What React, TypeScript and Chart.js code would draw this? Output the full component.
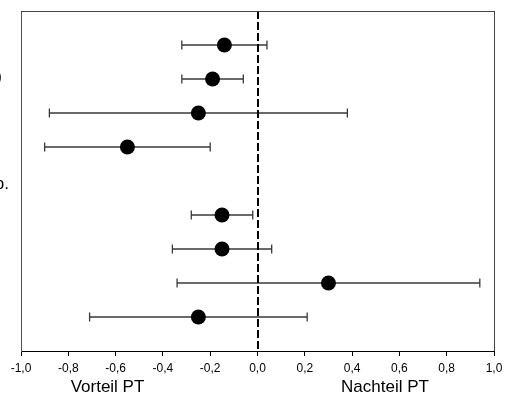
import { useEffect, useRef } from "react";
import { Chart, registerables } from "chart.js";

Chart.register(...registerables);

// Row slots on the vertical axis (slot 5 is left empty as a group gap)
const rowPositions = [1, 2, 3, 4, 6, 7, 8, 9];
// Point estimates and confidence limits for each row
const estimates = [-0.14, -0.19, -0.25, -0.55, -0.15, -0.15, 0.3, -0.25];
const lowerBounds = [-0.32, -0.32, -0.88, -0.9, -0.28, -0.36, -0.34, -0.71];
const upperBounds = [0.04, -0.06, 0.38, -0.2, -0.02, 0.06, 0.94, 0.21];
// Horizontal axis ticks
const xTickValues = [-1, -0.8, -0.6, -0.4, -0.2, 0, 0.2, 0.4, 0.6, 0.8, 1];
// Captions under the axis: favourable / unfavourable side
const axisCaptions = ["Vorteil PT", "Nachteil PT"];
// Row label endings at the far left edge
const sideLabels = [")", "p."];

const FONT = "'Liberation Sans', Arial, sans-serif";

const forestPlugin = {
  id: "forestExtras",
  beforeDatasetsDraw(chart: any) {
    const { ctx, chartArea, scales } = chart;
    const xs = scales.x;
    const ys = scales.y;
    ctx.save();
    // confidence intervals with end caps
    ctx.strokeStyle = "#3a3a3a";
    ctx.lineWidth = 1.3;
    for (let i = 0; i < rowPositions.length; i++) {
      const yp = ys.getPixelForValue(rowPositions[i]);
      const x1 = xs.getPixelForValue(lowerBounds[i]);
      const x2 = xs.getPixelForValue(upperBounds[i]);
      ctx.beginPath();
      ctx.moveTo(x1, yp);
      ctx.lineTo(x2, yp);
      ctx.moveTo(x1, yp - 4.5);
      ctx.lineTo(x1, yp + 4.5);
      ctx.moveTo(x2, yp - 4.5);
      ctx.lineTo(x2, yp + 4.5);
      ctx.stroke();
    }
    // dashed reference line at zero
    const x0 = Math.round(xs.getPixelForValue(0));
    ctx.strokeStyle = "#000";
    ctx.lineWidth = 2;
    ctx.setLineDash([8, 3]);
    ctx.beginPath();
    ctx.moveTo(x0, chartArea.top);
    ctx.lineTo(x0, chartArea.bottom);
    ctx.stroke();
    ctx.setLineDash([]);
    // top and right frame lines
    ctx.strokeStyle = "#444";
    ctx.lineWidth = 1;
    ctx.beginPath();
    ctx.moveTo(chartArea.left, chartArea.top + 0.5);
    ctx.lineTo(chartArea.right + 0.5, chartArea.top + 0.5);
    ctx.moveTo(chartArea.right + 0.5, chartArea.top);
    ctx.lineTo(chartArea.right + 0.5, chartArea.bottom);
    ctx.stroke();
    ctx.restore();
  },
  afterDraw(chart: any) {
    const { ctx } = chart;
    ctx.save();
    ctx.fillStyle = "#000";
    ctx.font = `17px ${FONT}`;
    ctx.textBaseline = "alphabetic";
    ctx.textAlign = "center";
    ctx.fillText(axisCaptions[0], 107.5, 392);
    ctx.fillText(axisCaptions[1], 385, 392);
    ctx.textAlign = "right";
    ctx.textBaseline = "middle";
    ctx.fillText(sideLabels[0], 2, 77);
    ctx.fillText(sideLabels[1], 9, 184);
    ctx.restore();
  },
};

export default function App() {
  const canvasRef = useRef<HTMLCanvasElement | null>(null);

  useEffect(() => {
    if (!canvasRef.current) return;
    const points = estimates.map((v, i) => ({ x: v, y: rowPositions[i] }));
    const chart = new Chart(canvasRef.current, {
      type: "scatter",
      data: {
        datasets: [
          {
            data: points,
            pointRadius: 7.5,
            pointHoverRadius: 7.5,
            backgroundColor: "#000",
            borderColor: "#000",
            borderWidth: 0,
          },
        ],
      },
      options: {
        responsive: false,
        devicePixelRatio: 1,
        animation: false,
        layout: { padding: { left: 21, right: 11, top: 11, bottom: 0 } },
        plugins: {
          legend: { display: false },
          tooltip: { enabled: false },
        },
        scales: {
          x: {
            type: "linear",
            min: -1,
            max: 1,
            afterBuildTicks: (scale: any) => {
              scale.ticks = xTickValues.map((v) => ({ value: v }));
            },
            afterFit: (scale: any) => {
              scale.height = 54;
              scale.paddingLeft = 0;
              scale.paddingRight = 0;
            },
            ticks: {
              autoSkip: false,
              maxRotation: 0,
              padding: 5,
              color: "#000",
              font: { family: FONT, size: 12 },
              callback: (v: any) => Number(v).toFixed(1).replace(".", ","),
            },
            grid: {
              drawOnChartArea: false,
              drawTicks: true,
              tickLength: 5,
              color: "#000",
            },
            border: { display: true, color: "#000", width: 1 },
          },
          y: {
            type: "linear",
            min: 0,
            max: 10,
            reverse: true,
            afterFit: (scale: any) => {
              scale.width = 0;
              scale.paddingTop = 0;
              scale.paddingBottom = 0;
            },
            ticks: { display: false },
            grid: { display: false },
            border: { display: true, color: "#555", width: 1 },
          },
        },
      },
      plugins: [forestPlugin],
    });
    return () => chart.destroy();
  }, []);

  return (
    <div style={{ position: "absolute", left: 0, top: 0, width: 505, height: 405, background: "#fff" }}>
      <canvas ref={canvasRef} width={505} height={405} style={{ display: "block" }} />
    </div>
  );
}
